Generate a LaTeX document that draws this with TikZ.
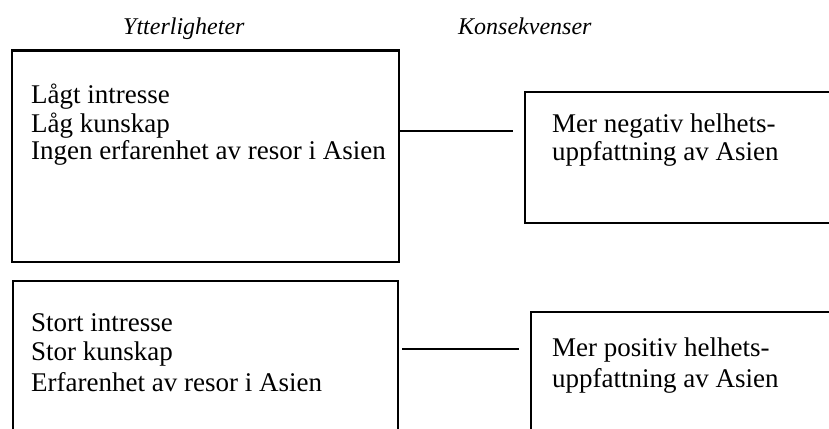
\documentclass[tikz,border=0pt]{standalone}
\usepackage{fontspec}
\setmainfont{Liberation Serif}
\begin{document}
\begin{tikzpicture}[x=1pt,y=-1pt,
  box/.style={draw=black, line width=2.2pt, inner sep=0pt, anchor=north west},
  txt/.style={inner sep=0pt, anchor=base west, font=\fontsize{27pt}{28pt}\selectfont},
  head/.style={inner sep=0pt, anchor=base west, font=\fontsize{24pt}{28pt}\selectfont\itshape},
  link/.style={draw=black, line width=2pt}]
\useasboundingbox (0,0) rectangle (829,428);
\clip (0,0) rectangle (829,428);
\fill[white] (0,0) rectangle (829,428);
% headers
\node[head] (h1) at (123,35) {Ytterligheter};
\node[head] (h2) at (458,35) {Konsekvenser};
% boxes
\node[box, minimum width=387pt, minimum height=211.5pt] (tl) at (11,49.5) {};
\node[box, minimum width=330pt, minimum height=131.5pt] (tr) at (524,90.7) {};
\node[box, minimum width=385pt, minimum height=180pt] (bl) at (12,280) {};
\node[box, minimum width=330pt, minimum height=150pt] (br) at (530,311) {};
% top-left text
\node[txt] (tl1) at (31,103) {Lågt intresse};
\node[txt] (tl2) at (31,132) {Låg kunskap};
\node[txt] (tl3) at (31,159) {Ingen erfarenhet av resor i Asien};
% top-right text
\node[txt] (tr1) at (552,132) {Mer negativ helhets-};
\node[txt] (tr2) at (552,160) {uppfattning av Asien};
% bottom-left text
\node[txt] (bl1) at (31,331) {Stort intresse};
\node[txt] (bl2) at (31,360) {Stor kunskap};
\node[txt] (bl3) at (31,391) {Erfarenhet av resor i Asien};
% bottom-right text
\node[txt] (br1) at (552,356) {Mer positiv helhets-};
\node[txt] (br2) at (552,387) {uppfattning av Asien};
% connectors
\coordinate (a1) at (400,131);
\coordinate (a2) at (513,131);
\coordinate (b1) at (402,349);
\coordinate (b2) at (519,349);
\draw[link] (a1) -- (a2);
\draw[link] (b1) -- (b2);
\end{tikzpicture}
\end{document}
